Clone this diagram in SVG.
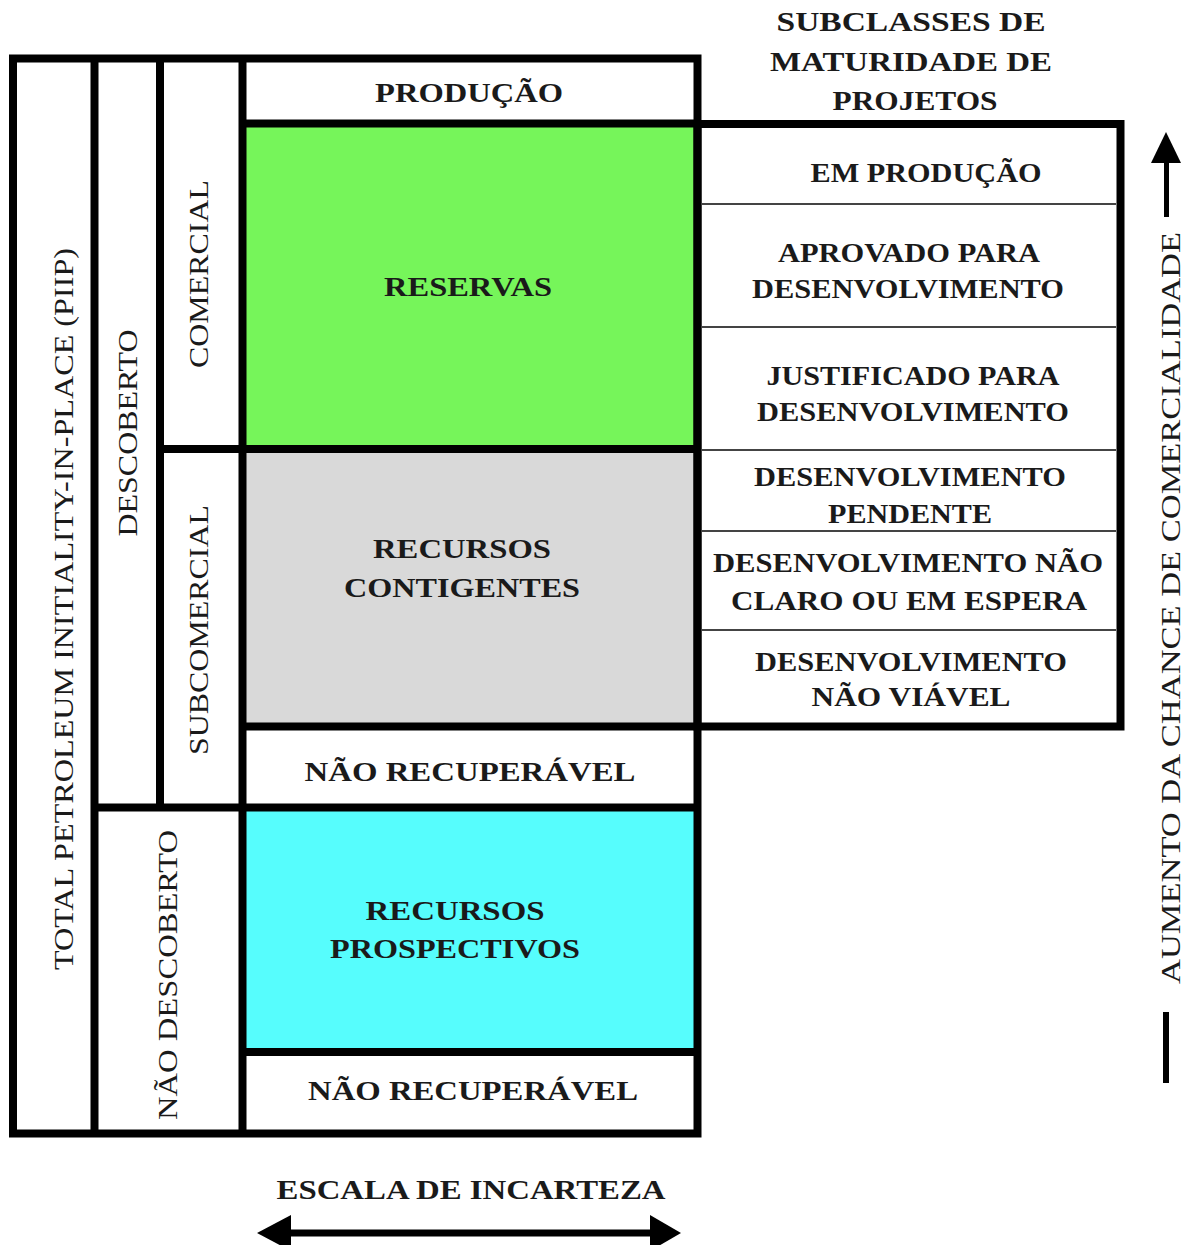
<svg xmlns="http://www.w3.org/2000/svg" width="1187" height="1245" viewBox="0 0 1187 1245">
<style>
.t{font-family:"Liberation Serif",serif;font-size:28px;font-weight:bold;fill:#1a1a1a;text-anchor:middle}
.v{font-family:"Liberation Serif",serif;font-size:28px;fill:#1a1a1a;text-anchor:middle}
.thick{stroke:#000;stroke-width:8;fill:none}
.thin{stroke:#444;stroke-width:2;fill:none}
</style>
<rect width="1187" height="1245" fill="#fff"/>
<g id="fills">
<rect x="246" y="127" width="448" height="319" fill="#76F55A"/>
<rect x="246" y="452" width="448" height="271" fill="#D9D9D9"/>
<rect x="246" y="811" width="448" height="238" fill="#56FDFD"/>
</g>
<g id="frame">
<rect class="thick" x="13" y="58.5" width="684.5" height="1075"/>
<line class="thick" x1="94.5" y1="58" x2="94.5" y2="1134"/>
<line class="thick" x1="160" y1="58" x2="160" y2="807"/>
<line class="thick" x1="242.5" y1="58" x2="242.5" y2="1134"/>
<line class="thick" x1="242" y1="123.5" x2="698" y2="123.5"/>
<line class="thick" x1="160" y1="449" x2="698" y2="449"/>
<line class="thick" x1="242" y1="726.5" x2="698" y2="726.5"/>
<line class="thick" x1="94" y1="807.5" x2="698" y2="807.5"/>
<line class="thick" x1="242" y1="1052" x2="698" y2="1052"/>
</g>
<g id="subclasses-box">
<rect class="thick" x="697.5" y="124" width="423" height="602.5"/>
<line class="thin" x1="702" y1="204" x2="1116" y2="204"/>
<line class="thin" x1="702" y1="327" x2="1116" y2="327"/>
<line class="thin" x1="702" y1="450" x2="1116" y2="450"/>
<line class="thin" x1="702" y1="531" x2="1116" y2="531"/>
<line class="thin" x1="702" y1="630" x2="1116" y2="630"/>
</g>
<g id="labels-vertical">
<text class="v" transform="translate(73,609) rotate(-90)" textLength="722" lengthAdjust="spacingAndGlyphs">TOTAL PETROLEUM INITIALITY-IN-PLACE (PIIP)</text>
<text class="v" transform="translate(137,433) rotate(-90)" textLength="207" lengthAdjust="spacingAndGlyphs">DESCOBERTO</text>
<text class="v" transform="translate(208,274) rotate(-90)" textLength="188" lengthAdjust="spacingAndGlyphs">COMERCIAL</text>
<text class="v" transform="translate(208,630) rotate(-90)" textLength="250" lengthAdjust="spacingAndGlyphs">SUBCOMERCIAL</text>
<text class="v" transform="translate(177,975) rotate(-90)" textLength="290" lengthAdjust="spacingAndGlyphs">NÃO DESCOBERTO</text>
<text class="v" transform="translate(1180,608) rotate(-90)" textLength="752" lengthAdjust="spacingAndGlyphs">AUMENTO DA CHANCE DE COMERCIALIDADE</text>
</g>
<g id="labels-main">
<text class="t" x="469" y="102" textLength="188" lengthAdjust="spacingAndGlyphs">PRODUÇÃO</text>
<text class="t" x="468" y="296" textLength="168" lengthAdjust="spacingAndGlyphs">RESERVAS</text>
<text class="t" x="462" y="558" textLength="178" lengthAdjust="spacingAndGlyphs">RECURSOS</text>
<text class="t" x="462" y="597" textLength="236" lengthAdjust="spacingAndGlyphs">CONTIGENTES</text>
<text class="t" x="470" y="781" textLength="331" lengthAdjust="spacingAndGlyphs">NÃO RECUPERÁVEL</text>
<text class="t" x="455" y="920" textLength="179" lengthAdjust="spacingAndGlyphs">RECURSOS</text>
<text class="t" x="455" y="958" textLength="250" lengthAdjust="spacingAndGlyphs">PROSPECTIVOS</text>
<text class="t" x="473" y="1100" textLength="330" lengthAdjust="spacingAndGlyphs">NÃO RECUPERÁVEL</text>
<text class="t" x="471" y="1199" textLength="389" lengthAdjust="spacingAndGlyphs">ESCALA DE INCARTEZA</text>
</g>
<g id="labels-subclasses">
<text class="t" x="911" y="31" textLength="269" lengthAdjust="spacingAndGlyphs">SUBCLASSES DE</text>
<text class="t" x="911" y="71" textLength="282" lengthAdjust="spacingAndGlyphs">MATURIDADE DE</text>
<text class="t" x="915" y="110" textLength="165" lengthAdjust="spacingAndGlyphs">PROJETOS</text>
<text class="t" x="926" y="182" textLength="231" lengthAdjust="spacingAndGlyphs">EM PRODUÇÃO</text>
<text class="t" x="909" y="262" textLength="262" lengthAdjust="spacingAndGlyphs">APROVADO PARA</text>
<text class="t" x="908" y="298" textLength="312" lengthAdjust="spacingAndGlyphs">DESENVOLVIMENTO</text>
<text class="t" x="913" y="385" textLength="293" lengthAdjust="spacingAndGlyphs">JUSTIFICADO PARA</text>
<text class="t" x="913" y="421" textLength="312" lengthAdjust="spacingAndGlyphs">DESENVOLVIMENTO</text>
<text class="t" x="910" y="486" textLength="312" lengthAdjust="spacingAndGlyphs">DESENVOLVIMENTO</text>
<text class="t" x="910" y="523" textLength="164" lengthAdjust="spacingAndGlyphs">PENDENTE</text>
<text class="t" x="908" y="572" textLength="390" lengthAdjust="spacingAndGlyphs">DESENVOLVIMENTO NÃO</text>
<text class="t" x="909" y="610" textLength="356" lengthAdjust="spacingAndGlyphs">CLARO OU EM ESPERA</text>
<text class="t" x="911" y="671" textLength="312" lengthAdjust="spacingAndGlyphs">DESENVOLVIMENTO</text>
<text class="t" x="911" y="706" textLength="199" lengthAdjust="spacingAndGlyphs">NÃO VIÁVEL</text>
</g>
<g id="connectors">
<polygon points="1166,132 1151,163 1181,163" fill="#000"/>
<rect x="1164" y="160" width="5" height="57" fill="#000"/>
<rect x="1163" y="1012" width="6" height="71" fill="#000"/>
<line x1="280" y1="1233" x2="660" y2="1233" stroke="#000" stroke-width="7"/>
<polygon points="257,1233 291,1215 291,1251" fill="#000"/>
<polygon points="681,1233 650,1215 650,1251" fill="#000"/>
</g>
</svg>
